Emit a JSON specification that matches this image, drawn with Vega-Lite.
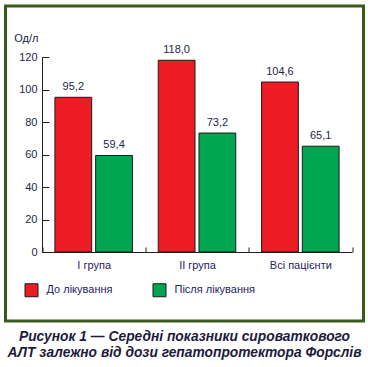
{
  "$schema": "https://vega.github.io/schema/vega-lite/v6.json",
  "autosize": "none",
  "padding": {"left": 5.5, "top": 6, "right": 4.5, "bottom": 46},
  "width": 358,
  "height": 315,
  "background": "white",
  "config": {
    "locale": {"number": {"decimal": ",", "thousands": " ", "grouping": [3], "currency": ["", ""]}},
    "view": {"stroke": "#3b5a1d", "strokeWidth": 3},
    "font": "Liberation Sans"
  },
  "title": {
    "text": ["Рисунок 1 — Середні показники сироваткового", "АЛТ залежно від дози гепатопротектора Форслів"],
    "orient": "bottom",
    "anchor": "middle",
    "font": "Liberation Sans",
    "fontSize": 13.8,
    "fontWeight": "bold",
    "fontStyle": "italic",
    "color": "#1e1b3c",
    "lineHeight": 15.5,
    "offset": 9
  },
  "data": {
    "values": [
      {"group": "I група", "series": "До лікування", "value": 95.2},
      {"group": "I група", "series": "Після лікування", "value": 59.4},
      {"group": "II група", "series": "До лікування", "value": 118.0},
      {"group": "II група", "series": "Після лікування", "value": 73.2},
      {"group": "Всі пацієнти", "series": "До лікування", "value": 104.6},
      {"group": "Всі пацієнти", "series": "Після лікування", "value": 65.1}
    ]
  },
  "encoding": {
    "x": {
      "field": "group", "type": "nominal", "sort": null,
      "scale": {"range": [36.5, 346.5], "paddingInner": 0, "paddingOuter": 0},
      "axis": {
        "title": null, "labelAngle": 0, "offset": -69,
        "domainColor": "#231f20", "tickColor": "#231f20",
        "tickBand": "extent", "tickSize": -5,
        "labelFont": "Liberation Sans", "labelFontSize": 11, "labelColor": "#262262",
        "labelPadding": 12
      }
    },
    "xOffset": {
      "field": "series", "type": "nominal", "sort": null,
      "scale": {"paddingInner": 0.0976, "paddingOuter": 0.317}
    },
    "y": {
      "field": "value", "type": "quantitative",
      "scale": {"domain": [0, 120], "range": [246, 51], "nice": false},
      "axis": {
        "title": "Од/л", "titleAngle": 0, "titleAlign": "right", "titleBaseline": "alphabetic",
        "titleX": -4, "titleY": 35, "titleFont": "Liberation Sans", "titleFontSize": 11,
        "titleFontWeight": "normal", "titleColor": "#231f46",
        "offset": -36.5, "values": [0, 20, 40, 60, 80, 100, 120], "grid": false,
        "domainColor": "#231f20", "tickColor": "#231f20", "tickSize": -7,
        "labelFont": "Liberation Sans", "labelFontSize": 11, "labelColor": "#231f46",
        "labelPadding": 12
      }
    }
  },
  "layer": [
    {
      "mark": {"type": "bar", "stroke": "#1a1a1a", "strokeWidth": 1},
      "encoding": {
        "color": {
          "field": "series", "type": "nominal", "sort": null,
          "scale": {"domain": ["До лікування", "Після лікування"], "range": ["#ed1c24", "#00a651"]},
          "legend": {
            "title": null, "orient": "none", "direction": "horizontal",
            "legendX": 19, "legendY": 277, "padding": 0,
            "symbolType": "square", "symbolSize": 169, "symbolStrokeColor": "#1a1a1a", "symbolStrokeWidth": 1,
            "symbolOpacity": 1,
            "labelFont": "Liberation Sans", "labelFontSize": 11, "labelColor": "#262262",
            "labelOffset": 8, "columnPadding": 38
          }
        }
      }
    },
    {
      "mark": {"type": "text", "baseline": "alphabetic", "dy": -7, "fontSize": 11, "color": "#231f46", "font": "Liberation Sans"},
      "encoding": {
        "text": {"field": "value", "type": "quantitative", "format": ".1f"}
      }
    }
  ]
}
